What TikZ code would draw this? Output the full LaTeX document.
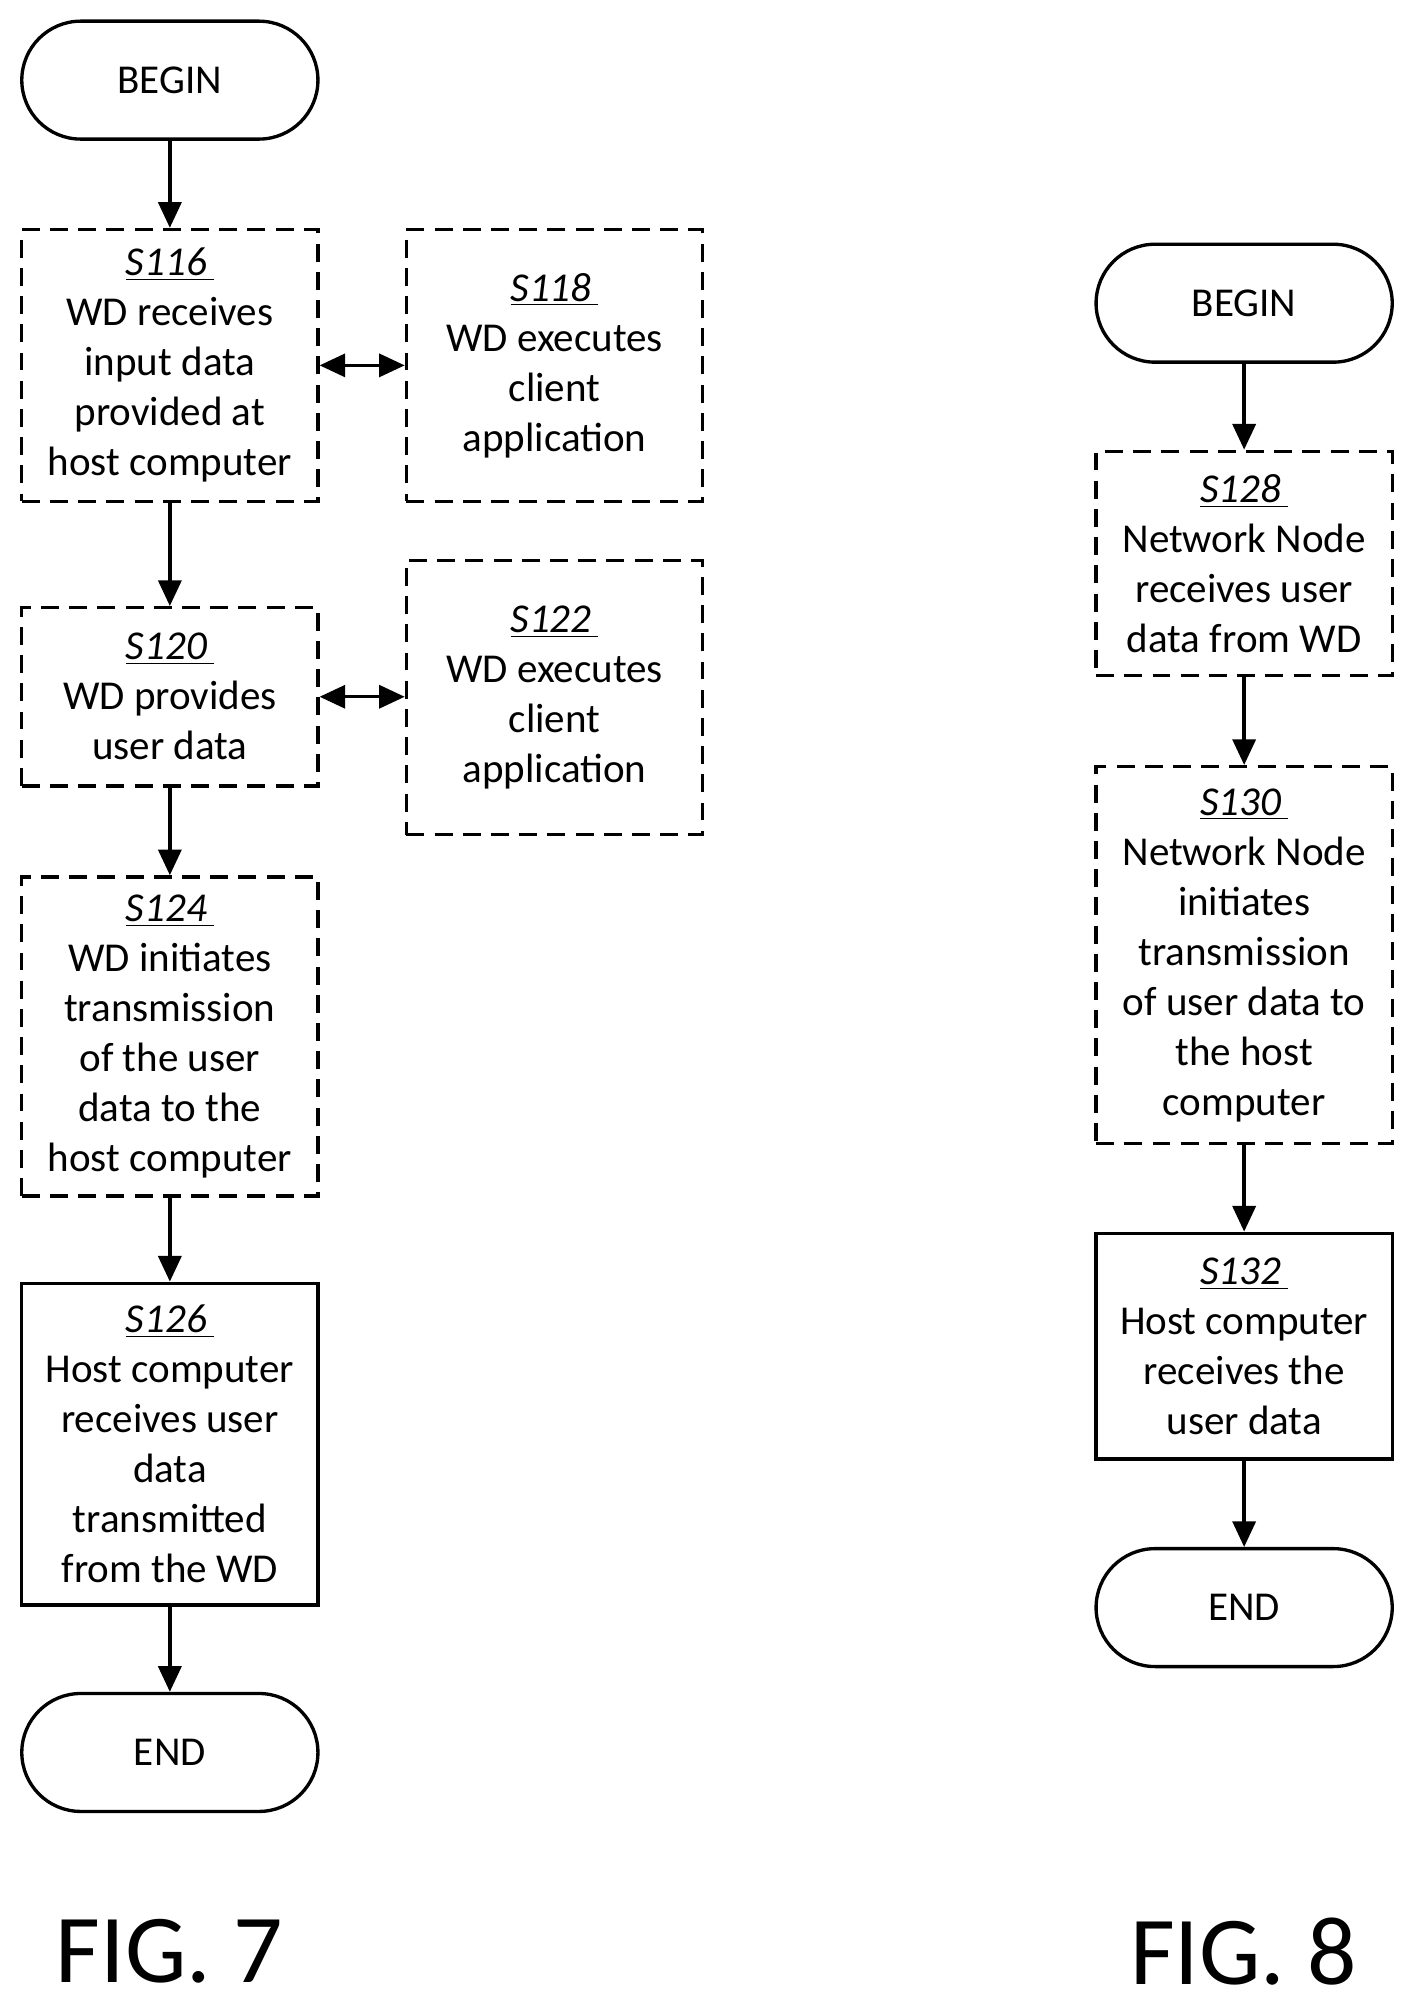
\documentclass[tikz,border=0pt]{standalone}
\usepackage{fontspec}
\setmainfont{Carlito}
\usetikzlibrary{arrows.meta}
\begin{document}
\begin{tikzpicture}[x=0.5pt,y=-0.5pt,
  base/.style={draw,line width=1.3pt,minimum width=115.5pt,align=center,inner sep=0pt,font=\fontsize{16}{19.5}\selectfont},
  dbox/.style={base,dash pattern=on 7pt off 4pt},
  sbox/.style={base},
  term/.style={base,rounded corners=23pt,minimum height=46pt},
  arr/.style={line width=1.3pt,-{Triangle[length=10pt,width=9pt]}},
  darr/.style={line width=1.3pt,{Triangle[length=10pt,width=9pt]}-{Triangle[length=10pt,width=9pt]}},
  fig/.style={font=\fontsize{38}{42}\selectfont}]
\useasboundingbox (0,0) rectangle (1100,1564);
\newcommand{\lab}[1]{\underline{\textit{#1\,}}}
% FIG 7
\node[term] (b7) at (132.5,62.5) {BEGIN};
\node[dbox,minimum height=106pt] (s116) at (132.5,285) {\lab{S116}\\WD receives\\input data\\provided at\\host computer};
\node[dbox,minimum height=106pt] (s118) at (432.5,285) {\lab{S118}\\WD executes\\client\\application};
\node[dbox,minimum height=69.5pt] (s120) at (132.5,543.5) {\lab{S120}\\WD provides\\user data};
\node[dbox,minimum height=107pt] (s122) at (432.5,544) {\lab{S122}\\WD executes\\client\\application};
\node[dbox,minimum height=124.5pt] (s124) at (132.5,808.5) {\lab{S124}\\WD initiates\\transmission\\of the user\\data to the\\host computer};
\node[sbox,minimum height=125.5pt] (s126) at (132.5,1126.5) {\lab{S126}\\Host computer\\receives user\\data\\transmitted\\from the WD};
\node[term] (e7) at (132.5,1367) {END};
\node[fig] (f7) at (132,1522) {FIG. 7};
\draw[arr] (b7) -- (s116);
\draw[arr] (s116) -- (s120);
\draw[arr] (s120) -- (s124);
\draw[arr] (s124) -- (s126);
\draw[arr] (s126) -- (e7);
\draw[darr] (s116.east) -- (s118.west);
\draw[darr] (s120.east) -- (s122.west |- s120.east);
% FIG 8
\node[term] (b8) at (970.5,236.5) {BEGIN};
\node[dbox,minimum height=87.5pt] (s128) at (970.5,439.5) {\lab{S128}\\Network Node\\receives user\\data from WD};
\node[dbox,minimum height=147pt] (s130) at (970.5,745) {\lab{S130}\\Network Node\\initiates\\transmission\\of user data to\\the host\\computer};
\node[sbox,minimum height=88pt] (s132) at (970.5,1050) {\lab{S132}\\Host computer\\receives the\\user data};
\node[term] (e8) at (970.5,1254) {END};
\node[fig] (f8) at (970,1522) {FIG. 8};
\draw[arr] (b8) -- (s128);
\draw[arr] (s128) -- (s130);
\draw[arr] (s130) -- (s132);
\draw[arr] (s132) -- (e8);
\end{tikzpicture}
\end{document}
